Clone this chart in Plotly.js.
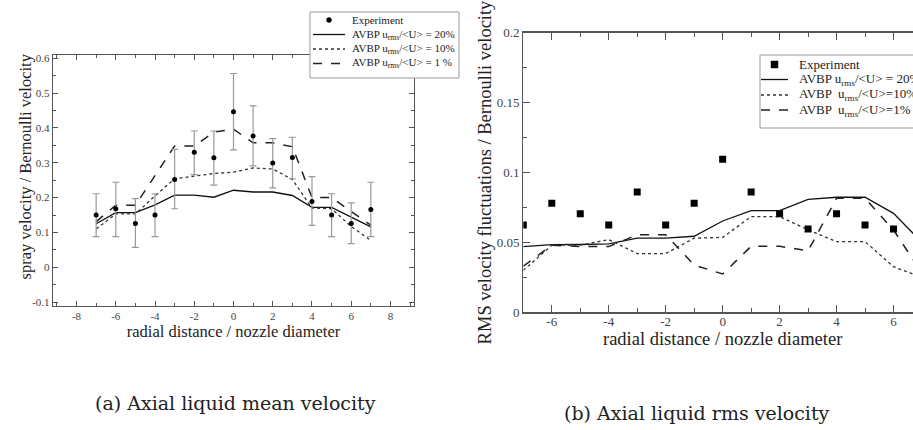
<!DOCTYPE html>
<html>
<head>
<meta charset="utf-8">
<script src="https://cdn.plot.ly/plotly-3.0.1.min.js"></script>
<style>
html,body{margin:0;padding:0;overflow:hidden;background:#fff;}
#chart{width:935px;height:430px;}
</style>
</head>
<body>
<div id="chart"></div>
<script>
// ---- Data: (a) Axial liquid mean velocity ----
const radialA = [-7,-6,-5,-4,-3,-2,-1,0,1,2,3,4,5,6,7];
const expMean  = [0.150,0.168,0.126,0.150,0.252,0.330,0.314,0.446,0.377,0.299,0.315,0.189,0.150,0.126,0.166];
const expUpper = [0.211,0.244,0.197,0.211,0.338,0.391,0.391,0.556,0.463,0.369,0.373,0.260,0.211,0.185,0.244];
const expLower = [0.088,0.088,0.057,0.088,0.168,0.266,0.236,0.337,0.291,0.228,0.254,0.120,0.088,0.068,0.088];
const meanAvbp20 = [0.125,0.157,0.157,0.179,0.207,0.207,0.201,0.221,0.216,0.216,0.206,0.172,0.172,0.143,0.116];
const meanAvbp10 = [0.110,0.153,0.153,0.205,0.254,0.262,0.269,0.273,0.285,0.282,0.252,0.170,0.168,0.117,0.077];
const meanAvbp1  = [0.131,0.178,0.178,0.262,0.348,0.348,0.388,0.396,0.357,0.357,0.346,0.200,0.200,0.160,0.121];

// ---- Data: (b) Axial liquid rms velocity ----
const radialBexp = [-7,-6,-5,-4,-3,-2,-1,0,1,2,3,4,5,6];
const rmsExp = [0.0625,0.078,0.0705,0.0625,0.086,0.0625,0.078,0.1095,0.086,0.0705,0.0595,0.0705,0.0625,0.0595];
const radialB = [-7,-6,-5,-4,-3,-2,-1,0,1,2,3,4,5,6,7];
const rmsAvbp20 = [0.047,0.0484,0.0485,0.049,0.053,0.053,0.0544,0.0653,0.0727,0.0727,0.0808,0.0823,0.0823,0.0708,0.050];
const rmsAvbp10 = [0.030,0.048,0.048,0.052,0.042,0.042,0.053,0.0536,0.0684,0.0684,0.059,0.0505,0.0505,0.0326,0.025];
const rmsAvbp1  = [0.033,0.048,0.047,0.047,0.0555,0.0555,0.0338,0.0274,0.0472,0.0472,0.044,0.0815,0.0815,0.0589,0.028];

// ---- Tick labels ----
const xTickValsA = [-8,-6,-4,-2,0,2,4,6,8];
const xTickTextA = ['-8','-6','-4','-2','0','2','4','6','8'];
const yTickValsA = [-0.1,0,0.1,0.2,0.3,0.4,0.5,0.6];
const yTickTextA = ['-0.1','0','0.1','0.2','0.3','0.4','0.5','0.6'];
const xTickValsB = [-6,-4,-2,0,2,4,6];
const xTickTextB = ['-6','-4','-2','0','2','4','6'];
const yTickValsB = [0,0.05,0.1,0.15,0.2];
const yTickTextB = ['0','0.05','0.1','0.15','0.2'];

// ---- Texts ----
const legA = ['Experiment','AVBP u<sub>rms</sub>/&lt;U&gt; = 20%','AVBP u<sub>rms</sub>/&lt;U&gt; = 10%','AVBP u<sub>rms</sub>/&lt;U&gt; = 1 %'];
const legB = ['Experiment','AVBP u<sub>rms</sub>/&lt;U&gt; = 20%','AVBP  u<sub>rms</sub>/&lt;U&gt;=10%','AVBP  u<sub>rms</sub>/&lt;U&gt;=1%'];
const captionA = '(a) Axial liquid mean velocity';
const captionB = '(b) Axial liquid rms velocity';
const xTitle = 'radial distance / nozzle diameter';
const yTitleA = 'spray velocity / Bernoulli velocity';
const yTitleB = 'RMS velocity fluctuations / Bernoulli velocity';

const W = 935, H = 430;
const FONT = 'Liberation Serif';
const AX = '#555';
const px = v => v / W;          // page pixel -> paper x
const py = v => 1 - v / H;      // page pixel -> paper y

const plus = expUpper.map((u,i)=>u-expMean[i]);
const minus = expMean.map((m,i)=>m-expLower[i]);

const styles = [
  {color:'#111',width:1.3,dash:'solid'},
  {color:'#333',width:1.3,dash:'dot'},
  {color:'#222',width:1.5,dash:'dash'}
];

const traces = [
  {x:radialA,y:meanAvbp20,xaxis:'x',yaxis:'y',mode:'lines',name:legA[1],line:styles[0]},
  {x:radialA,y:meanAvbp10,xaxis:'x',yaxis:'y',mode:'lines',name:legA[2],line:styles[1]},
  {x:radialA,y:meanAvbp1,xaxis:'x',yaxis:'y',mode:'lines',name:legA[3],line:styles[2]},
  {x:radialA,y:expMean,xaxis:'x',yaxis:'y',mode:'markers',name:legA[0],
   marker:{symbol:'circle',size:5,color:'#000'},
   error_y:{type:'data',symmetric:false,array:plus,arrayminus:minus,color:'#999',thickness:1.2,width:3.5}},
  {x:radialB,y:rmsAvbp20,xaxis:'x2',yaxis:'y2',mode:'lines',name:legB[1],line:styles[0]},
  {x:radialB,y:rmsAvbp10,xaxis:'x2',yaxis:'y2',mode:'lines',name:legB[2],line:styles[1]},
  {x:radialB,y:rmsAvbp1,xaxis:'x2',yaxis:'y2',mode:'lines',name:legB[3],line:styles[2]},
  {x:radialBexp,y:rmsExp,xaxis:'x2',yaxis:'y2',mode:'markers',name:legB[0],
   marker:{symbol:'square',size:7,color:'#000'}}
];

function axisBase(extra){
  return Object.assign({
    showgrid:false, zeroline:false, showline:true, linecolor:AX, linewidth:1.2,
    mirror:'allticks', ticks:'inside', tickcolor:AX, tickwidth:1, tickmode:'array',
    tickfont:{family:FONT,size:11,color:'#444'}
  }, extra);
}

// ---- Legend boxes (drawn as shapes + annotations, xmgrace style) ----
const shapes = [];
const annotations = [];
function buildLegend(labels, box, sampleX0, sampleX1, textX, rowY, markerKind, markerSize, fontSize){
  shapes.push({type:'rect', xref:'paper', yref:'paper', x0:px(box[0]), x1:px(box[1]), y0:py(box[2]), y1:py(box[3]),
    line:{color:'#999',width:1}, fillcolor:'#fff', layer:'above'});
  labels.forEach((lab,i)=>{
    const y = rowY[i];
    if(i===0){
      const cx = (sampleX0+sampleX1)/2, h = markerSize/2;
      shapes.push({type:markerKind, xref:'paper', yref:'paper', x0:px(cx-h), x1:px(cx+h), y0:py(y+h), y1:py(y-h),
        line:{color:'#000',width:0.5}, fillcolor:'#000', layer:'above'});
    } else {
      const s = styles[i-1];
      shapes.push({type:'line', xref:'paper', yref:'paper', x0:px(sampleX0), x1:px(sampleX1), y0:py(y), y1:py(y),
        line:{color:s.color,width:s.width,dash:s.dash}, layer:'above'});
    }
    annotations.push({text:lab, xref:'paper', yref:'paper', x:px(textX), y:py(y), xanchor:'left', yanchor:'middle',
      showarrow:false, font:{family:FONT,size:fontSize,color:'#222'}});
  });
}
buildLegend(legA, [310,459,12,78], 313, 345, 350, [20,34.5,49,63.5], 'circle', 5, 11);
buildLegend(legB, [760,940,55,128], 761, 788, 797, [64.5,79.5,95,110], 'rect', 7, 13);

annotations.push(
  {text:yTitleA, xref:'paper', yref:'paper', x:px(25), y:py(166.5), xanchor:'center', yanchor:'middle',
   textangle:-90, showarrow:false, font:{family:FONT,size:16.5,color:'#222'}},
  {text:captionA, xref:'paper', yref:'paper', x:px(236), y:py(403), xanchor:'center', yanchor:'middle',
   showarrow:false, font:{family:'DejaVu Serif',size:19,color:'#222'}},
  {text:captionB, xref:'paper', yref:'paper', x:px(697), y:py(413), xanchor:'center', yanchor:'middle',
   showarrow:false, font:{family:'DejaVu Serif',size:19,color:'#222'}}
);

const layout = {
  width:W, height:H,
  margin:{l:0,r:0,t:0,b:0},
  paper_bgcolor:'#fff', plot_bgcolor:'#fff',
  showlegend:false,
  xaxis: axisBase({domain:[px(53),px(414)], range:[-9.2,9.2], tickvals:xTickValsA, ticktext:xTickTextA, ticklen:5,
    minor:{ticks:'inside',tickmode:'linear',dtick:1,tick0:0,ticklen:3,tickcolor:AX},
    title:{text:xTitle, standoff:0, font:{family:FONT,size:16.5,color:'#222'}}, anchor:'y'}),
  yaxis: axisBase({domain:[py(306),py(55)], range:[-0.111,0.609], tickvals:yTickValsA, ticktext:yTickTextA, ticklen:5,
    minor:{ticks:'inside',tickmode:'linear',dtick:0.05,tick0:0,ticklen:3,tickcolor:AX}, anchor:'x'}),
  xaxis2: axisBase({domain:[px(523.3),px(922)], range:[-7,7], tickvals:xTickValsB, ticktext:xTickTextB, ticklen:7,
    tickfont:{family:FONT,size:13,color:'#444'}, ticklabelstandoff:-3,
    minor:{ticks:'inside',tickmode:'linear',dtick:1,tick0:0,ticklen:4,tickcolor:AX},
    title:{text:xTitle, standoff:0, font:{family:FONT,size:18.5,color:'#222'}}, anchor:'y2'}),
  yaxis2: axisBase({domain:[py(312.3),py(32.7)], range:[0,0.2], tickvals:yTickValsB, ticktext:yTickTextB, ticklen:7,
    tickfont:{family:FONT,size:13,color:'#444'},
    minor:{ticks:'inside',tickmode:'linear',dtick:0.025,tick0:0,ticklen:4,tickcolor:AX},
    title:{text:yTitleB, standoff:0, font:{family:FONT,size:18.5,color:'#222'}}, anchor:'x2'}),
  shapes:shapes,
  annotations:annotations
};

Plotly.newPlot('chart', traces, layout, {staticPlot:true, displayModeBar:false});
</script>
</body>
</html>
